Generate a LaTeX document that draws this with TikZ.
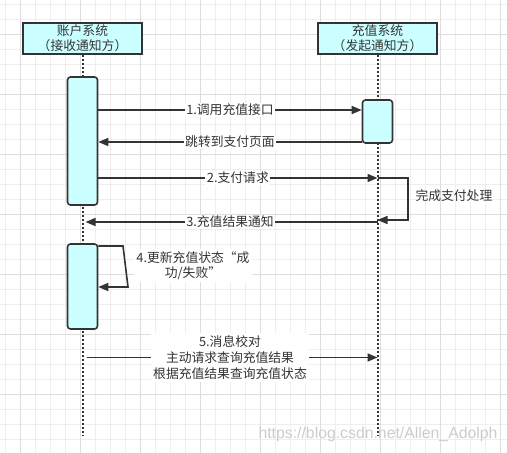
\documentclass[tikz,border=0pt]{standalone}
\usepackage{fontspec}
\setmainfont{Noto Sans CJK SC}
\newfontfamily\wmfont{Liberation Sans}
\usepackage{tikz}
\usetikzlibrary{arrows.meta,positioning}

\definecolor{boxfill}{HTML}{CCFFFF}
\definecolor{ink}{HTML}{333333}
\definecolor{gridminor}{HTML}{EEEEEE}
\definecolor{gridmajor}{HTML}{DDDDDD}

\tikzset{
  header/.style={draw=ink,line width=1.6pt,fill=boxfill,minimum width=119pt,minimum height=31pt,
    inner sep=0pt,align=center,font=\fontsize{12.8}{15}\selectfont,text=ink},
  actbox/.style={draw=ink,line width=1.6pt,fill=boxfill,rounded corners=3pt,minimum width=30pt,inner sep=0pt},
  lifeline/.style={draw=ink,line width=2pt,dash pattern=on 1.8pt off 2.2pt},
  msg/.style={draw=ink,line width=1.6pt,-{Triangle[length=10pt,width=8pt]}},
  msglabel/.style={fill=white,inner sep=1.5pt,text=ink,font=\fontsize{12.8}{16}\selectfont,align=center},
}

\begin{document}
\begin{tikzpicture}[x=1pt,y=-1pt]
  \useasboundingbox (0,0) rectangle (507,453);

  % background grid
  \foreach \gx in {5.7,20.7,...,507} {\draw[gridminor,line width=0.8pt] (\gx,0) -- (\gx,453);}
  \foreach \gy in {4.3,19.3,...,453} {\draw[gridminor,line width=0.8pt] (0,\gy) -- (507,\gy);}
  \foreach \gx in {20.7,80.7,...,507} {\draw[gridmajor,line width=0.8pt] (\gx,0) -- (\gx,453);}
  \foreach \gy in {34.3,94.3,...,453} {\draw[gridmajor,line width=0.8pt] (0,\gy) -- (507,\gy);}

  % participants
  \node[header] (acct) at (82.5,38.5) {账户系统\\（接收通知方）};
  \node[header] (chg)  at (377.5,38.5) {充值系统\\（发起通知方）};

  \coordinate (acctend) at (82.5,435);
  \coordinate (chgend)  at (377.5,435);
  \draw[lifeline] (acct.south) -- (acctend);
  \draw[lifeline] (chg.south) -- (chgend);

  % activations
  \node[actbox,minimum height=128pt] (act1) at (82.5,141) {};
  \node[actbox,minimum height=85pt]  (act2) at (82.5,286.5) {};
  \node[actbox,minimum height=43pt]  (act3) at (377.5,121.5) {};

  % message rows
  \coordinate (y1) at (0,110);
  \coordinate (y2) at (0,142);
  \coordinate (y3) at (0,178);
  \coordinate (y4) at (0,222);
  \coordinate (y5) at (0,357.5);

  \draw[msg] (act1.east |- y1) -- node[msglabel] {1.调用充值接口} (act3.west |- y1);
  \draw[msg] (act3.west |- y2) -- node[msglabel] {跳转到支付页面} (act1.east |- y2);
  \draw[msg] (act1.east |- y3) -- node[msglabel] {2.支付请求} (chgend |- y3);

  % self call on the recharge side
  \coordinate (pay1) at (408,178);
  \coordinate (pay2) at (408,220);
  \draw[msg] (chgend |- y3) -- (pay1) -- (pay2) -- (chgend |- pay2);
  \node[text=ink,font=\fontsize{12.8}{15}\selectfont,anchor=west] (paylabel) at (412,196) {完成支付处理};

  \draw[msg,shorten >=3pt] (chgend |- y4) -- node[msglabel] {3.充值结果通知} (acctend |- y4);

  % self call on the account side
  \coordinate (upd1) at (123,246);
  \coordinate (upd2) at (128,287);
  \draw[msg] (act2.east |- upd1) -- (upd1) -- (upd2) -- (act2.east |- upd2);
  \node[msglabel,inner sep=2pt,font=\fontsize{12.8}{15}\selectfont] (updlabel) at (193,265.5) {4.更新充值状态“成\\功/失败”};

  \draw[msg,shorten <=4pt] (acctend |- y5) -- node[msglabel,inner sep=2.5pt] {5.消息校对\\主动请求查询充值结果\\根据充值结果查询充值状态} (chgend |- y5);

  % watermark
  \node[text=black!20,font=\wmfont\fontsize{15.8}{17}\selectfont] (mark) at (378,434) {https://blog.csdn.net/Allen\_Adolph};
\end{tikzpicture}
\end{document}
